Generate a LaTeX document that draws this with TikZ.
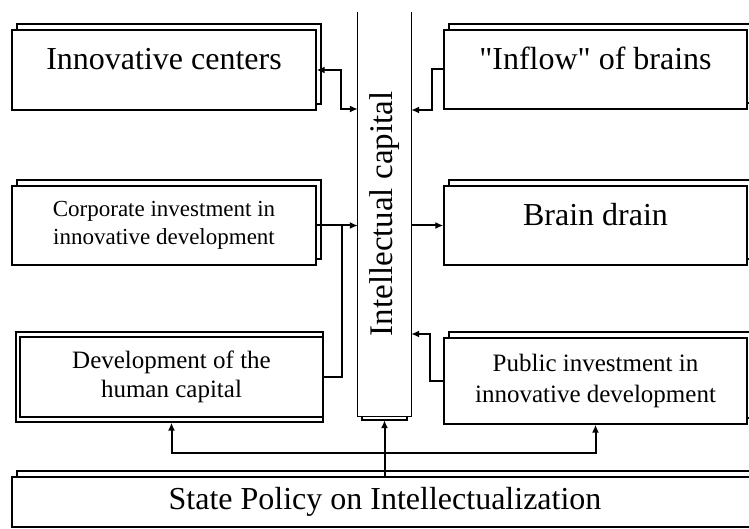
\documentclass[tikz,border=0pt]{standalone}
\usepackage{fontspec}
\setmainfont{Liberation Serif}
\usetikzlibrary{arrows.meta,shadows}

\tikzset{
  frame/.style={draw, line width=1.3pt},
  box/.style={frame, fill=white, minimum width=304pt, minimum height=80pt,
    align=center, inner sep=2pt},
  stack/.style={box, copy shadow={shadow xshift=5pt, shadow yshift=6pt}},
  big/.style={font=\fontsize{32}{36}\selectfont, text height=23pt, text depth=23pt},
  mid/.style={font=\fontsize{25}{29}\selectfont},
  small/.style={font=\fontsize{23}{28}\selectfont},
  link/.style={line width=2pt},
}

\begin{document}
\begin{tikzpicture}[x=1pt, y=-1pt, >={Latex[length=8pt,width=7pt]}]
	\useasboundingbox (0,0) rectangle (749,529);

	% left column of boxes
	\node[stack, big] (ic) at (164,70) {Innovative centers};
	\node[stack, small, minimum height=79pt] (corp) at (164,225.5)
		{Corporate investment in\\innovative development};
	\draw[frame] (16,332) rectangle (323,422);
	\node[box, mid, minimum width=303pt] (human) at (171.5,377)
		{Development of the\\human capital};

	% right column of boxes
	\node[stack, big, minimum width=303pt, minimum height=79pt] (inflow) at (595.5,69.5)
		{\textquotedbl Inflow\textquotedbl{} of brains};
	\node[stack, big, minimum width=303pt, minimum height=79pt] (drain) at (595.5,225.5)
		{Brain drain};
	\node[stack, minimum width=303pt, minimum height=86pt, font=\fontsize{25}{31}\selectfont]
		(public) at (595.5,381) {Public investment in\\innovative development};

	% the middle column, open at the top
	\draw[frame] (362,380) rectangle (407,420);
	\node[fill=white, minimum width=53pt, minimum height=404pt, inner sep=0pt,
		font=\fontsize{33}{36}\selectfont] (col) at (384.5,214)
		{\rotatebox{90}{Intellectual capital}};
	\draw[frame] (col.north west) -- (col.south west) -- (col.south east) -- (col.north east);

	% policy box at the bottom
	\node[stack, big, minimum width=746pt, minimum height=50pt, text depth=8pt]
		(policy) at (385,502) {State Policy on Intellectualization};

	% links to the capital
	\draw[link, <->] (ic.east) -- ++(24,0) |- (col.west |- 0,109);
	\draw[link, ->] (inflow.west) -- ++(-11,0) |- (col.east |- 0,110);
	\draw[link, ->] (corp.east) -- (col.west |- corp.east);
	\draw[link] (human.east) -- ++(18,0) |- (corp.east);
	\draw[link, ->] (col.east |- drain.west) -- (drain.west);
	\draw[link, ->] (public.west) -- ++(-13,0) |- (col.east |- 0,334);

	% policy feeds three boxes
	\draw[link, ->, shorten >=4pt] (policy.north -| col.south) -- (col.south);
	\draw[link, ->, shorten >=5pt] (col.south |- 0,453) -| (human.south);
	\draw[link, ->] (col.south |- 0,453) -| (public.south);
\end{tikzpicture}
\end{document}
